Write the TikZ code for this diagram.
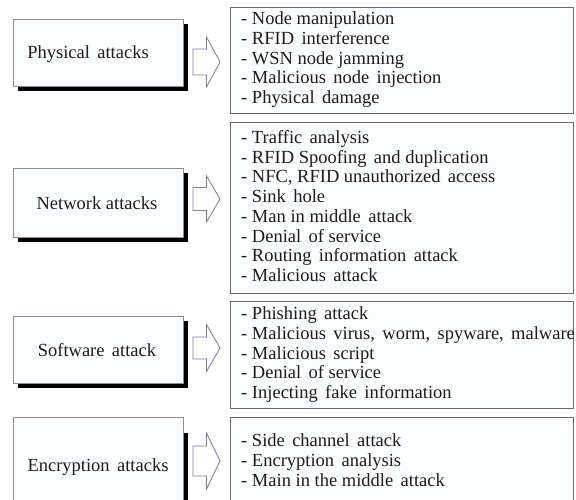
\documentclass[tikz,border=0pt]{standalone}
\usepackage{fontspec}
\setmainfont{Liberation Serif}

\definecolor{boxline}{RGB}{105,105,110}
\definecolor{catline}{RGB}{140,140,150}
\definecolor{arrowline}{RGB}{125,122,155}
\definecolor{ink}{RGB}{28,28,28}
\definecolor{paper}{RGB}{251,253,255}

% a slightly wider word gap, as used in most of the entries
\newcommand\gap{\hspace{0.4em}}

% block arrow: #1 = centre y, #2 = half shaft height, #3 = half head height
\newcommand\blockarrowat[3]{%
  \draw[blockarrow] (193,#1-#2) -- (206.5,#1-#2) -- (206.5,#1-#3) -- (220,#1)
    -- (206.5,#1+#3) -- (206.5,#1+#2) -- (193,#1+#2) -- cycle;}

\begin{document}
\begin{tikzpicture}[x=1pt,y=-1pt,
  catbox/.style={draw=catline, line width=0.8pt, fill=paper},
  shadowbox/.style={fill=black},
  listbox/.style={draw=boxline, line width=0.9pt, fill=paper},
  entry/.style={font=\fontsize{18.5}{20}\selectfont, text=ink, inner sep=0pt, anchor=base west},
  cattext/.style={font=\fontsize{18.5}{20}\selectfont, text=ink, inner sep=0pt, anchor=base},
  blockarrow/.style={draw=arrowline, line width=0.8pt, fill=white, line join=miter}
]
\useasboundingbox (0,0) rectangle (576,499);
\fill[white] (0,0) rectangle (576,499);
\clip (0,0) rectangle (576,499);

% ---------- Physical attacks ----------
\fill[shadowbox] (17.5,23.5) rectangle (187.5,91);
\draw[catbox] (13,19) rectangle (183,86.5);
\node[cattext] (phys) at (88,58.5) {Physical\gap attacks};
\blockarrowat{62}{13}{25}
\draw[listbox] (230,7.5) rectangle (573,113.5);
\foreach \t [count=\i] in {%
  {- Node manipulation},
  {- RFID\gap interference},
  {- WSN node jamming},
  {- Malicious\gap node\gap injection},
  {- Physical\gap damage}}
  \node[entry] (phys\i) at (241,24.5+19.8*\i-19.8) {\t};

% ---------- Network attacks ----------
\fill[shadowbox] (17.5,172.5) rectangle (187.5,241.5);
\draw[catbox] (13,168) rectangle (183,237);
\node[cattext] (net) at (97,209) {Network attacks};
\blockarrowat{199}{11.5}{23}
\draw[listbox] (230,122.5) rectangle (573,293);
\foreach \t [count=\i] in {%
  {- Traffic\gap analysis},
  {- RFID Spoofing\gap and duplication},
  {- NFC, RFID unauthorized\gap access},
  {- Sink\gap hole},
  {- Man in middle\gap attack},
  {- Denial\gap of service},
  {- Routing\gap information\gap attack},
  {- Malicious\gap attack}}
  \node[entry] (net\i) at (241,143.5+19.7*\i-19.7) {\t};

% ---------- Software attack ----------
\fill[shadowbox] (17.5,320.5) rectangle (187.5,388);
\draw[catbox] (13,316) rectangle (183,383.5);
\node[cattext] (soft) at (97,356) {Software\gap attack};
\blockarrowat{348}{11}{23.5}
\draw[listbox] (230,301.5) rectangle (573,408);
\foreach \t [count=\i] in {%
  {- Phishing\gap attack},
  {- Malicious\gap virus,\gap worm,\gap spyware,\gap malware},
  {- Malicious\gap script},
  {- Denial\gap of service},
  {- Injecting\gap fake\gap information}}
  \node[entry] (soft\i) at (241,319.5+19.8*\i-19.8) {\t};

% ---------- Encryption attacks ----------
\fill[shadowbox] (17.5,433) rectangle (187.5,520);
\draw[catbox] (13,417) rectangle (183,515);
\node[cattext] (enc) at (98,471) {Encryption\gap attacks};
\blockarrowat{461}{15}{28}
\draw[listbox] (230,417) rectangle (573,515);
\foreach \t [count=\i] in {%
  {- Side\gap channel\gap attack},
  {- Encryption\gap analysis},
  {- Main in the middle\gap attack}}
  \node[entry] (enc\i) at (241,446.5+19.8*\i-19.8) {\t};
\end{tikzpicture}
\end{document}
